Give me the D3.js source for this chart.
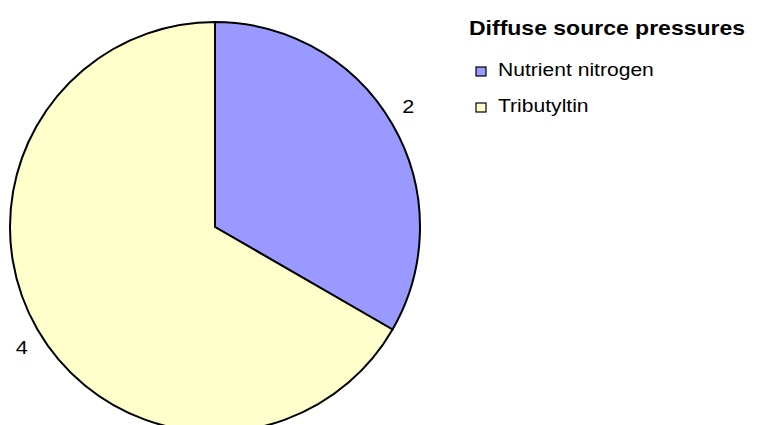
<!DOCTYPE html>
<html>
<head>
<meta charset="utf-8">
<script src="https://cdn.jsdelivr.net/npm/d3@7"></script>
<style>
  body { margin: 0; background: #fff; }
  svg text { font-family: "Liberation Sans", Arial, sans-serif; }
</style>
</head>
<body>
<div id="chart"></div>
<script>
// Chart data
const categories = ["Nutrient nitrogen", "Tributyltin"];
const values = [2, 4];
const colours = ["#9999ff", "#ffffcc"];
const title = "Diffuse source pressures";

const width = 757, height = 425;
const cx = 215, cy = 227, r = 205;

const svg = d3.select("#chart").append("svg")
    .attr("width", width)
    .attr("height", height);

const colour = d3.scaleOrdinal().domain(categories).range(colours);

// Slices go clockwise from 12 o'clock in data order
const pie = d3.pie().sort(null).value((d) => d.value);
const arcs = pie(categories.map((c, i) => ({ name: c, value: values[i] })));

const arc = d3.arc().innerRadius(0).outerRadius(r);

// Label position: just outside the rim, a touch before the slice middle
function labelPos(d) {
    const a = (d.startAngle + d.endAngle) / 2 - 0.035;
    const lr = r + 23;
    return [Math.sin(a) * lr, -Math.cos(a) * lr];
}

const g = svg.append("g")
    .attr("transform", "translate(" + cx + "," + cy + ")");

g.selectAll("path")
    .data(arcs)
    .enter().append("path")
    .attr("d", arc)
    .style("fill", (d) => colour(d.data.name))
    .style("stroke", "#000")
    .style("stroke-width", 2);

// the text in the original is a bit wider than plain Arial, so stretch it
const stretch = 1.14;

g.selectAll("text.lbl")
    .data(arcs)
    .enter().append("text")
    .attr("class", "lbl")
    .attr("transform", (d) => "translate(" + labelPos(d) + ") scale(" + stretch + ",1)")
    .attr("dy", ".35em")
    .attr("text-anchor", "middle")
    .style("font-size", "19px")
    .text((d) => d.value);

// Legend
const legend = svg.append("g");

legend.append("text")
    .attr("transform", "translate(469,35) scale(1.18,1)")
    .style("font-size", "19.5px")
    .style("font-weight", "bold")
    .text(title);

const item = legend.selectAll("g.item")
    .data(categories)
    .enter().append("g")
    .attr("class", "item")
    .attr("transform", (d, i) => "translate(476," + (67 + i * 36) + ")");

item.append("rect")
    .attr("width", 10)
    .attr("height", 9)
    .style("fill", (d) => colour(d))
    .style("stroke", "#000")
    .style("stroke-width", 1.2);

item.append("text")
    .attr("transform", "translate(22,9) scale(" + stretch + ",1)")
    .style("font-size", "18.5px")
    .text((d) => d);
</script>
</body>
</html>
